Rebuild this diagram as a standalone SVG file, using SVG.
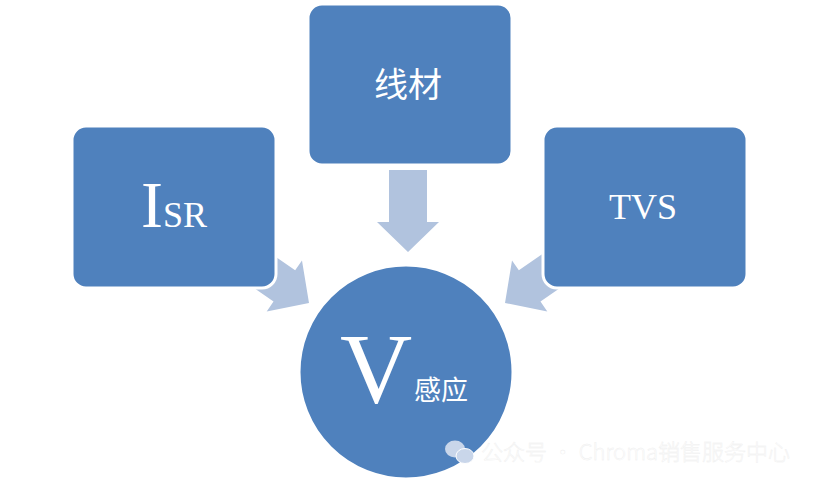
<svg xmlns="http://www.w3.org/2000/svg" width="819" height="484" viewBox="0 0 819 484">
  <defs>
    <style>
      .node { fill: #4f81bd; stroke: #ffffff; stroke-width: 3; }
      .arrow { fill: #b1c3de; stroke: none; }
      .lat { font-family: "Liberation Serif", "Times New Roman", serif; fill: #ffffff; }
      .cjk { font-family: "Noto Sans CJK SC", "Noto Sans", sans-serif; fill: #ffffff; }
      .wm { font-family: "Noto Sans CJK SC", "Noto Sans", sans-serif; font-size: 22px; font-weight: 300; fill: #ffffff; stroke: #ececec; stroke-width: 0.4; opacity: 0.9; }
    </style>
    <path id="blockArrow" d="M -19 -82 L 19 -82 L 19 -30 L 31 -30 L 0 0 L -31 -30 L -19 -30 Z"/>
  </defs>
  <rect width="819" height="484" fill="#ffffff"/>

  <g id="connectors">
    <use href="#blockArrow" class="arrow" transform="translate(408 252)"/>
    <use href="#blockArrow" class="arrow" transform="translate(309 303) rotate(-55.3)"/>
    <use href="#blockArrow" class="arrow" transform="translate(505 303) rotate(55.3)"/>
  </g>

  <g id="node-xiancai">
    <rect class="node" x="308" y="4" width="204" height="161" rx="14"/>
    <text class="cjk" x="408" y="97" font-size="34" text-anchor="middle">线材</text>
  </g>

  <g id="node-isr">
    <rect class="node" x="72" y="126" width="204" height="162" rx="14"/>
    <text class="lat" x="141" y="226.5"><tspan font-size="66">I</tspan><tspan font-size="36">SR</tspan></text>
  </g>

  <g id="node-tvs">
    <rect class="node" x="543" y="126" width="204" height="162" rx="14"/>
    <text class="lat" x="643" y="218.5" font-size="36" text-anchor="middle">TVS</text>
  </g>

  <g id="node-v">
    <circle class="node" cx="406" cy="372" r="107"/>
    <text class="lat" x="340" y="401.5" font-size="100">V</text>
    <text class="cjk" x="414" y="400" font-size="27">感应</text>
  </g>

  <g id="watermark">
    <ellipse cx="455" cy="449" rx="10" ry="8.5" fill="#c9d6ea"/>
    <ellipse cx="465" cy="456" rx="9" ry="7.5" fill="#c9d6ea" stroke="#ffffff" stroke-width="1"/>
    <text class="wm" x="481" y="460">公众号 · Chroma销售服务中心</text>
  </g>
</svg>
